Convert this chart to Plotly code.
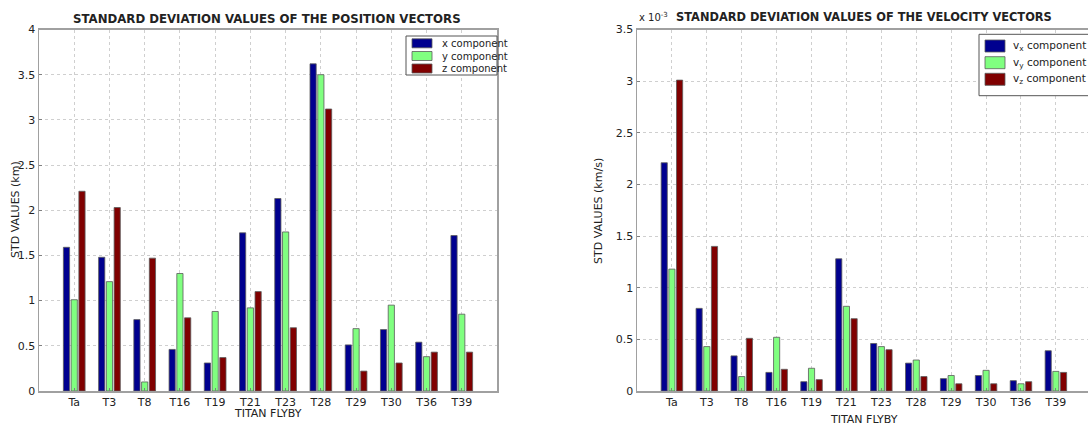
import plotly.graph_objects as go

flybys = ["Ta", "T3", "T8", "T16", "T19", "T21", "T23", "T28", "T29", "T30", "T36", "T39"]

pos_x = [1.59, 1.48, 0.79, 0.46, 0.31, 1.75, 2.13, 3.62, 0.51, 0.68, 0.54, 1.72]
pos_y = [1.01, 1.21, 0.10, 1.30, 0.88, 0.92, 1.76, 3.50, 0.69, 0.95, 0.38, 0.85]
pos_z = [2.21, 2.03, 1.47, 0.81, 0.37, 1.10, 0.70, 3.12, 0.22, 0.31, 0.43, 0.43]

# velocity values in units of 1e-3 km/s (axis multiplier "x 10^-3")
vel_x = [2.21, 0.80, 0.34, 0.18, 0.09, 1.28, 0.46, 0.27, 0.12, 0.15, 0.10, 0.39]
vel_y = [1.18, 0.43, 0.14, 0.52, 0.22, 0.82, 0.43, 0.30, 0.15, 0.20, 0.07, 0.19]
vel_z = [3.01, 1.40, 0.51, 0.21, 0.11, 0.70, 0.40, 0.14, 0.07, 0.07, 0.09, 0.18]

pos_names = ["x component", "y component", "z component"]
vel_names = ["v<sub>x</sub> component", "v<sub>y</sub> component", "v<sub>z</sub> component"]
colors = ["#00008F", "#80FF80", "#800000"]

W, H = 1088, 425
FONT = "DejaVu Sans, Verdana, sans-serif"
EDGE = "#5a5a5a"

fig = go.Figure()
for vals, name, c in zip([pos_x, pos_y, pos_z], pos_names, colors):
    fig.add_trace(go.Bar(x=flybys, y=vals, name=name, marker=dict(color=c, line=dict(color=EDGE, width=0.8)),
                         xaxis="x", yaxis="y", showlegend=False))
for vals, name, c in zip([vel_x, vel_y, vel_z], vel_names, colors):
    fig.add_trace(go.Bar(x=flybys, y=vals, name=name, marker=dict(color=c, line=dict(color=EDGE, width=0.8)),
                         xaxis="x2", yaxis="y2", showlegend=False))

ydom = [1 - 391 / H, 1 - 29.5 / H]
axis_common = dict(showline=True, linecolor="#a0a0a0", linewidth=1.5, mirror=True,
                   showgrid=True, gridcolor="#cfcfcf", griddash="dot", gridwidth=1,
                   ticks="inside", ticklen=3, tickcolor="#808080",
                   tickfont=dict(family=FONT, size=11, color="#222"), zeroline=False)

fig.update_layout(
    width=W, height=H,
    margin=dict(l=0, r=0, t=0, b=0, autoexpand=False),
    paper_bgcolor="white", plot_bgcolor="white",
    barmode="group", bargap=0.34, bargroupgap=0.2,
    font=dict(family=FONT, color="#222"),
    hovermode=False,
    xaxis=dict(domain=[39 / W, 497 / W], range=[-1, 12], anchor="y", **axis_common),
    yaxis=dict(domain=ydom, range=[0, 4], dtick=0.5, anchor="x", **axis_common),
    xaxis2=dict(domain=[637 / W, 1.0], range=[-1, 11.92], anchor="y2", **axis_common),
    yaxis2=dict(domain=ydom, range=[0, 3.5], dtick=0.5, anchor="x2", **axis_common),
    showlegend=False,
)


def px(x):
    return x / W


def py(y):
    return 1 - y / H


shapes = []
ann = []


def legend_box(box, sw_x, sw_h, text_x, ys, names, fsize):
    x0, y0, x1, y1 = box
    shapes.append(dict(type="rect", xref="paper", yref="paper", x0=px(x0), x1=px(x1), y0=py(y1), y1=py(y0),
                       fillcolor="white", line=dict(color="#555", width=1), layer="above"))
    for yc, name, c in zip(ys, names, colors):
        shapes.append(dict(type="rect", xref="paper", yref="paper", x0=px(sw_x[0]), x1=px(sw_x[1]),
                           y0=py(yc + sw_h / 2), y1=py(yc - sw_h / 2), fillcolor=c,
                           line=dict(color=EDGE, width=0.8), layer="above"))
        ann.append(dict(text=name, x=px(text_x), y=py(yc), xanchor="left", font=dict(size=fsize)))


legend_box((406, 36, 497, 75), (412, 432), 9, 440, [43.3, 56, 68.5], pos_names, 10)
legend_box((979, 34.3, 1100, 95.7), (985, 1005), 12, 1011, [46, 62.7, 79.3], vel_names, 10.5)

ann += [
    dict(text="<b>STANDARD DEVIATION VALUES OF THE POSITION VECTORS</b>", x=267 / W, y=1 - 19 / H,
         font=dict(size=11.75)),
    dict(text="<b>STANDARD DEVIATION VALUES OF THE VELOCITY VECTORS</b>", x=864 / W, y=1 - 17 / H,
         font=dict(size=11.4)),
    dict(text="x 10<sup>-3</sup>", x=637 / W, y=1 - 17 / H, xanchor="left", font=dict(size=10)),
    dict(text="STD VALUES (km)", x=15 / W, y=1 - 210 / H, textangle=-90, font=dict(size=11)),
    dict(text="STD VALUES (km/s)", x=598 / W, y=1 - 211 / H, textangle=-90, font=dict(size=11)),
    dict(text="TITAN FLYBY", x=268 / W, y=1 - 413.5 / H, font=dict(size=11)),
    dict(text="TITAN FLYBY", x=864 / W, y=1 - 419 / H, font=dict(size=11)),
]
for a in ann:
    a.setdefault("xanchor", "center")
    fig.add_annotation(xref="paper", yref="paper", showarrow=False, yanchor="middle",
                       font_family=FONT, font_color="#222", **a)
fig.update_layout(shapes=shapes)

fig.write_html("out.html", config={"displayModeBar": False, "staticPlot": True},
               post_script="document.body.style.margin='0';document.body.style.overflow='hidden';")
